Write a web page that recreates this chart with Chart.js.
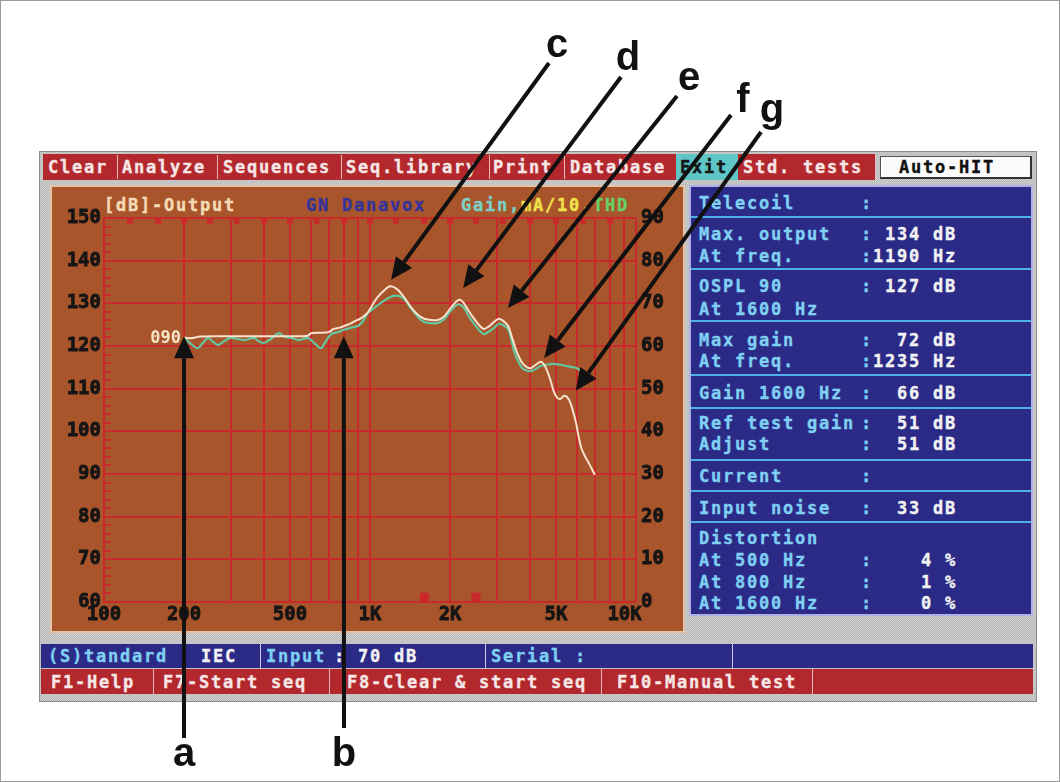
<!DOCTYPE html>
<html>
<head>
<meta charset="utf-8">
<script src="https://cdn.jsdelivr.net/npm/chart.js@4.4.0/dist/chart.umd.min.js"></script>
<style>
html,body{margin:0;padding:0;background:#fff;}
#page{position:relative;width:1060px;height:782px;overflow:hidden;background:#fff;box-sizing:border-box;border:1px solid #9a9a9a;}
.abs{position:absolute;}
.dos{position:absolute;font-family:"DejaVu Sans Mono",monospace;font-weight:bold;font-size:17px;letter-spacing:1.77px;white-space:pre;line-height:20px;-webkit-text-stroke:0.35px currentColor;}
#frame{left:38px;top:150px;width:998px;height:551px;background:#c4c4c4 repeating-conic-gradient(#b6b6b6 0 25%,#d2d2d2 0 50%) 0 0/2px 2px;box-sizing:border-box;border:1px solid #8c8c8c;}
#menubar{left:42px;top:153px;width:832px;height:26px;background:#b3282d;}
.sepm{position:absolute;top:154px;width:1px;height:24px;background:#e9b7b7;}
.menu{color:#f6e6e6;top:156px;}
#exitbox{left:675px;top:153px;width:62px;height:26px;background:#5fc6c8;}
#autohit{left:879px;top:155px;width:152px;height:23px;background:#fbfbfb;box-sizing:border-box;border:1px solid #555;border-right:2px solid #333;border-bottom:2px solid #333;}
#orange{left:49px;top:184px;width:635px;height:448px;background:#a9552b;box-sizing:border-box;border:2px solid #e7c3a6;}
#blue{left:688px;top:184px;width:344px;height:431px;background:#2c2a87;box-sizing:border-box;border:2px solid #aeb0e6;}
.bsep{position:absolute;left:690px;width:340px;height:2px;background:#4db0e6;}
.lbl{color:#7fd0f2;}
.val{color:#f2f2f2;}
#statblue{left:40px;top:643px;width:992px;height:24px;background:#2c2a87;}
#statred{left:40px;top:668px;width:992px;height:25px;background:#b3282d;}
.sseps{position:absolute;width:1px;background:#c9c9e9;}
canvas{position:absolute;left:0;top:0;z-index:10;pointer-events:none;}
</style>
</head>
<body>
<div id="page">
  <div id="frame" class="abs"></div>

  <!-- menu bar -->
  <div id="menubar" class="abs"></div>
  <div id="exitbox" class="abs"></div>
  <div class="sepm" style="left:116px"></div>
  <div class="sepm" style="left:216px"></div>
  <div class="sepm" style="left:340px"></div>
  <div class="sepm" style="left:488px"></div>
  <div class="sepm" style="left:563px"></div>
  <div class="sepm" style="left:874px"></div>
  <div class="dos menu" style="left:47px">Clear</div>
  <div class="dos menu" style="left:121px">Analyze</div>
  <div class="dos menu" style="left:222px">Sequences</div>
  <div class="dos menu" style="left:345px">Seq.library</div>
  <div class="dos menu" style="left:492px">Print</div>
  <div class="dos menu" style="left:569px">Database</div>
  <div class="dos menu" style="left:679px;color:#151515">Exit</div>
  <div class="dos menu" style="left:742px">Std. tests</div>
  <div id="autohit" class="abs"></div>
  <div class="dos" style="left:898px;top:156px;color:#111">Auto-HIT</div>

  <!-- graph panel -->
  <div id="orange" class="abs"></div>
  <div class="dos" style="left:103px;top:194px;color:#f4dbb6">[dB]-Output</div>
  <div class="dos" style="left:305px;top:194px;color:#34339a">GN Danavox</div>
  <div class="dos" style="left:460px;top:194px"><span style="color:#7ad2c6">Gain,</span><span style="color:#efe24a">mA/10,</span><span style="color:#66d06a">THD</span></div>

  <!-- info panel -->
  <div id="blue" class="abs"></div>
  <div class="bsep" style="top:215px"></div>
  <div class="bsep" style="top:267px"></div>
  <div class="bsep" style="top:319px"></div>
  <div class="bsep" style="top:373px"></div>
  <div class="bsep" style="top:406px"></div>
  <div class="bsep" style="top:458px"></div>
  <div class="bsep" style="top:489px"></div>
  <div class="bsep" style="top:520px"></div>
  <div id="info"></div>

  <!-- status bars -->
  <div id="statblue" class="abs"></div>
  <div id="statred" class="abs"></div>
  <div class="sseps" style="left:181px;top:643px;height:24px"></div>
  <div class="sseps" style="left:259px;top:643px;height:24px"></div>
  <div class="sseps" style="left:484px;top:643px;height:24px"></div>
  <div class="sseps" style="left:731px;top:643px;height:24px"></div>
  <div class="sseps" style="left:152px;top:668px;height:25px;background:#e9b7b7"></div>
  <div class="sseps" style="left:328px;top:668px;height:25px;background:#e9b7b7"></div>
  <div class="sseps" style="left:600px;top:668px;height:25px;background:#e9b7b7"></div>
  <div class="sseps" style="left:811px;top:668px;height:25px;background:#e9b7b7"></div>
  <div class="dos lbl" style="left:47px;top:645px">(S)tandard</div>
  <div class="dos val" style="left:200px;top:645px">IEC</div>
  <div class="dos lbl" style="left:265px;top:645px">Input</div>
  <div class="dos val" style="left:333px;top:645px">: 70 dB</div>
  <div class="dos lbl" style="left:490px;top:645px">Serial :</div>
  <div class="dos val" style="left:50px;top:671px;color:#f6e6e6">F1-Help</div>
  <div class="dos val" style="left:162px;top:671px;color:#f6e6e6">F7-Start seq</div>
  <div class="dos val" style="left:346px;top:671px;color:#f6e6e6">F8-Clear &amp; start seq</div>
  <div class="dos val" style="left:616px;top:671px;color:#f6e6e6">F10-Manual test</div>

  <canvas id="c" width="1060" height="782"></canvas>
</div>

<script>
// ---------------- data ----------------
const outputFreq = [200,210,230,260,300,350,400,450,500,550,584,600,650,700,730,770,800,840,870,930,980,1030,1070,1130,1190,1260,1330,1430,1520,1600,1700,1800,1900,1970,2080,2150,2230,2350,2450,2580,2680,2800,2920,3050,3150,3300,3400,3500,3620,3740,3900,4020,4200,4380,4520,4640,4780,4900,5050,5200,5350,5470,5600,5700,5850,5950,6100,6230,6450,6650,6850,7000];
const outputDb = [122.0,121.8,122.2,122.3,122.3,122.3,122.3,122.3,122.3,122.3,122.4,123.0,123.1,123.3,124.0,124.3,124.7,125.2,125.7,126.6,127.8,130.0,131.5,133.0,134.0,133.4,131.8,129.0,127.2,126.4,126.1,126.1,126.9,128.2,130.0,130.8,130.4,128.2,126.6,124.8,124.0,124.6,125.6,126.4,126.0,124.8,122.5,120.0,117.6,116.0,115.0,114.8,115.6,116.3,115.6,114.1,111.8,109.5,107.9,107.6,108.3,108.2,107.4,106.2,103.8,102.0,98.5,96.1,94.0,92.5,91.0,89.8];

const gainFreq = [200,212,225,236,246,257,268,284,300,336,366,380,399,425,454,475,505,541,584,615,653,685,714,760,798,850,900,940,982,1030,1100,1170,1235,1330,1400,1460,1560,1650,1800,1900,1970,2080,2150,2260,2350,2450,2570,2680,2800,2920,3050,3150,3300,3400,3480,3600,3740,3900,4020,4200,4380,4600,4900,5200,5500,5800,6000,6200,6450,6650,6850];
const gainDb = [61.9,60.5,59.5,60.8,61.9,61.0,60.2,61.2,61.9,61.4,61.9,61.2,60.7,61.7,63.0,62.2,61.9,61.4,61.9,60.8,59.5,61.3,62.8,63.3,63.8,64.3,64.7,65.8,67.7,68.8,70.1,71.2,71.8,71.3,69.5,68.0,66.0,65.4,65.4,66.3,67.5,69.2,69.8,68.9,67.0,65.4,63.7,62.8,63.4,64.2,65.2,65.0,64.0,61.5,58.8,56.5,54.8,54.2,54.1,54.6,55.3,55.6,55.8,55.6,55.3,55.0,54.8,54.0,52.5,52.0,52.3];

const xGridFreqs = [100,200,300,400,500,600,700,800,900,1000,2000,3000,4000,5000,6000,7000,8000,9000,10000];
const xTickLabels = {100:'100',200:'200',500:'500',1000:'1K',2000:'2K',5000:'5K',10000:'10K  '};
const outputAxis = {min:60, max:150, step:10};
const gainAxis = {min:0, max:90, step:10};

const thirdOctaveFreqs = [125,160,200,250,315,400,500,630,800,1000,1250,1600,2000,2500,3150,4000,5000,6300,8000];
const thirdOctaveLevel = thirdOctaveFreqs.map(() => 149.35);
const bottomMarkFreqs = [1600,2500];
const bottomMarkLevel = bottomMarkFreqs.map(() => 61.1);

const startLabel = '090';

// annotation arrows: target in data units (Hz, dB output)
const arrowLabels = ['a','b','c','d','e','f','g'];
const arrowFreq   = [200, 797, 1200, 2240, 3300, 4520, 5930];
const arrowDb     = [122.3, 122.3, 135.5, 133.6, 128.9, 117.2, 109.5];

// info panel texts
const infoRows = [
  ['Telecoil', ':', 202],
  ['Max. output', ': 134 dB', 233],
  ['At freq.', ':1190 Hz', 255],
  ['OSPL 90', ': 127 dB', 285],
  ['At 1600 Hz', '', 308],
  ['Max gain', ':  72 dB', 339],
  ['At freq.', ':1235 Hz', 360],
  ['Gain 1600 Hz', ':  66 dB', 392],
  ['Ref test gain', ':  51 dB', 422],
  ['Adjust', ':  51 dB', 443],
  ['Current', ':', 475],
  ['Input noise', ':  33 dB', 507],
  ['Distortion', '', 537],
  ['At 500 Hz', ':    4 %', 559],
  ['At 800 Hz', ':    1 %', 581],
  ['At 1600 Hz', ':    0 %', 602]
];

// ---------------- info panel ----------------
const info = document.getElementById('info');
infoRows.forEach(([l, v, y]) => {
  const a = document.createElement('div');
  a.className = 'dos lbl'; a.style.left = '698px'; a.style.top = (y - 10) + 'px'; a.textContent = l;
  info.appendChild(a);
  if (v) {
    const b = document.createElement('div');
    b.className = 'dos'; b.style.left = '860px'; b.style.top = (y - 10) + 'px';
    b.innerHTML = '<span class="lbl">:</span><span class="val"></span>';
    b.lastChild.textContent = v.slice(1);
    info.appendChild(b);
  }
});

// ---------------- chart ----------------
const RED = '#c9292b';
const MONO = '"DejaVu Sans Mono", monospace';
const arrowLayout = {
  a:{tail:[183,737], text:[183,765]},
  b:{tail:[343,727], text:[343,765]},
  c:{tail:[548,62],  text:[556,56]},
  d:{tail:[620,76],  text:[627,69]},
  e:{tail:[676,95],  text:[688,89]},
  f:{tail:[730,114], text:[742,111]},
  g:{tail:[760,131], text:[771,121]}
};

const overlay = {
  id: 'overlay',
  beforeDatasetsDraw(chart) {
    const ctx = chart.ctx, ys = chart.scales.y, area = chart.chartArea;
    ctx.save();
    ctx.strokeStyle = RED; ctx.lineWidth = 2;
    for (let v = outputAxis.min + 2; v < outputAxis.max; v += 2) {
      if (v % 10 === 0) continue;
      const py = Math.round(ys.getPixelForValue(v));
      ctx.beginPath(); ctx.moveTo(area.left, py); ctx.lineTo(area.left + 7, py); ctx.stroke();
    }
    ctx.restore();
  },
  afterDraw(chart) {
    const ctx = chart.ctx, xs = chart.scales.x, ys = chart.scales.y;
    ctx.save();
    // start label
    ctx.font = 'bold 17px ' + MONO;
    ctx.fillStyle = '#f6e2c6';
    ctx.textAlign = 'right'; ctx.textBaseline = 'middle';
    ctx.fillText(startLabel, xs.getPixelForValue(outputFreq[0]) - 3, ys.getPixelForValue(outputDb[0]) + 1);
    // arrows
    ctx.fillStyle = '#111'; ctx.strokeStyle = '#111';
    arrowLabels.forEach((lab, i) => {
      const hx = xs.getPixelForValue(arrowFreq[i]);
      const hy = ys.getPixelForValue(arrowDb[i]);
      const [tx, ty] = arrowLayout[lab].tail;
      const ang = Math.atan2(hy - ty, hx - tx);
      const L = 22, W = 10;
      const bx = hx - L * Math.cos(ang), by = hy - L * Math.sin(ang);
      ctx.lineWidth = 4; ctx.lineCap = 'butt';
      ctx.beginPath(); ctx.moveTo(tx, ty); ctx.lineTo(bx, by); ctx.stroke();
      ctx.beginPath();
      ctx.moveTo(hx, hy);
      ctx.lineTo(bx + W * Math.sin(ang), by - W * Math.cos(ang));
      ctx.lineTo(bx - W * Math.sin(ang), by + W * Math.cos(ang));
      ctx.closePath(); ctx.fill();
      ctx.font = 'bold 40px "Liberation Sans", Arial, sans-serif';
      ctx.textAlign = 'center'; ctx.textBaseline = 'alphabetic';
      const [lx, ly] = arrowLayout[lab].text;
      ctx.fillText(lab, lx, ly);
    });
    ctx.restore();
  }
};

const tickFont = {family: MONO, weight: 'bold', size: 19};
const tickCommon = {color: '#151515', font: tickFont, textStrokeColor: '#151515', textStrokeWidth: 0.8};

new Chart(document.getElementById('c'), {
  type: 'scatter',
  data: {
    datasets: [
      {
        label: 'Output',
        data: outputFreq.map((f, i) => ({x: f, y: outputDb[i]})),
        yAxisID: 'y', showLine: true, borderColor: '#f7e2cd', borderWidth: 2,
        pointRadius: 0, tension: 0.3
      },
      {
        label: 'Gain',
        data: gainFreq.map((f, i) => ({x: f, y: gainDb[i]})),
        yAxisID: 'y2', showLine: true, borderColor: '#62c6a0', borderWidth: 2.2,
        pointRadius: 0, tension: 0.3
      },
      {
        label: 'markers',
        data: thirdOctaveFreqs.map((f, i) => ({x: f, y: thirdOctaveLevel[i]})),
        yAxisID: 'y', showLine: false, pointStyle: 'rect', pointRadius: 4.2,
        backgroundColor: RED, borderWidth: 0
      },
      {
        label: 'bottom markers',
        data: bottomMarkFreqs.map((f, i) => ({x: f, y: bottomMarkLevel[i]})),
        yAxisID: 'y', showLine: false, pointStyle: 'rect', pointRadius: 6.5,
        backgroundColor: RED, borderWidth: 0
      }
    ]
  },
  options: {
    responsive: false, animation: false, devicePixelRatio: 1,
    layout: {padding: {top: 217, left: 53, right: 385, bottom: 159}},
    plugins: {legend: {display: false}, tooltip: {enabled: false}},
    scales: {
      x: {
        type: 'logarithmic', min: 100, max: 10000,
        afterBuildTicks: s => { s.ticks = xGridFreqs.map(v => ({value: v})); },
        afterFit: s => { s.height = 22; },
        grid: {color: RED, lineWidth: 2, drawTicks: false},
        border: {color: RED, width: 2},
        ticks: Object.assign({autoSkip: false, maxRotation: 0, minRotation: 0, padding: 2,
          callback: v => xTickLabels[v] || ''}, tickCommon)
      },
      y: {
        position: 'left', min: outputAxis.min, max: outputAxis.max,
        afterFit: s => { s.width = 50; },
        grid: {color: RED, lineWidth: 2, drawTicks: false},
        border: {color: RED, width: 2},
        ticks: Object.assign({stepSize: outputAxis.step, padding: 3}, tickCommon)
      },
      y2: {
        position: 'right', min: gainAxis.min, max: gainAxis.max,
        afterFit: s => { s.width = 40; },
        grid: {display: false, drawTicks: false},
        border: {display: false},
        ticks: Object.assign({stepSize: gainAxis.step, padding: 5}, tickCommon)
      }
    }
  },
  plugins: [overlay]
});
</script>
</body>
</html>
